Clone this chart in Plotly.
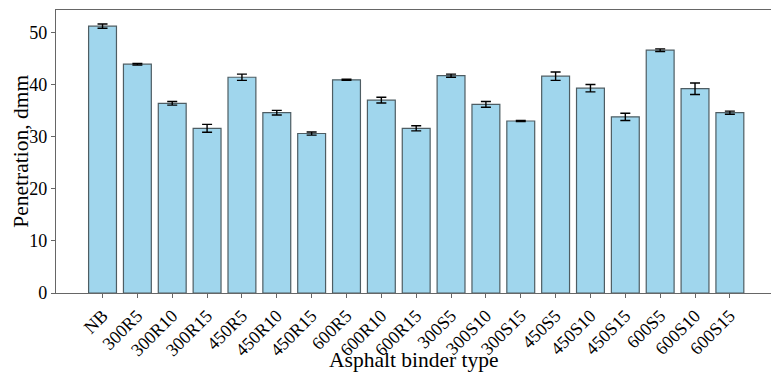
import plotly.graph_objects as go

binders = ["NB", "300R5", "300R10", "300R15", "450R5", "450R10", "450R15",
           "600R5", "600R10", "600R15", "300S5", "300S10", "300S15",
           "450S5", "450S10", "450S15", "600S5", "600S10", "600S15"]
penetration = [51.2, 43.9, 36.4, 31.6, 41.4, 34.6, 30.6,
               40.9, 37.0, 31.6, 41.7, 36.2, 33.0,
               41.6, 39.3, 33.8, 46.6, 39.2, 34.6]
std_dev = [0.4, 0.15, 0.35, 0.75, 0.6, 0.45, 0.3,
           0.1, 0.55, 0.5, 0.3, 0.55, 0.1,
           0.8, 0.7, 0.7, 0.25, 1.1, 0.3]

positions = list(range(len(binders)))
serif = "Liberation Serif, Times New Roman, serif"

fig = go.Figure(go.Bar(
    x=positions,
    y=penetration,
    width=0.8,
    marker=dict(color="#a0d6ed", line=dict(color="#4e5d63", width=1.2)),
    error_y=dict(type="data", array=std_dev, visible=True,
                 color="black", thickness=1.4, width=5),
))

fig.update_layout(
    width=771, height=374,
    margin=dict(l=56, r=0, t=10, b=81),
    plot_bgcolor="white", paper_bgcolor="white",
    font=dict(family=serif, color="black"),
    showlegend=False,
    bargap=0.2,
    annotations=[
        dict(text="Asphalt binder type", xref="paper", yref="paper",
             x=0.5, y=-0.238, xanchor="center", yanchor="middle",
             showarrow=False, font=dict(size=21.5, family=serif)),
        dict(text="Penetration, dmm", xref="paper", yref="paper",
             x=-0.05, y=0.5, xanchor="center", yanchor="middle",
             textangle=-90, showarrow=False,
             font=dict(size=21.5, family=serif)),
    ],
)
fig.update_xaxes(
    range=[-1.335, 19.18],
    tickmode="array", tickvals=positions, ticktext=binders,
    tickangle=-45, tickfont=dict(size=18),
    ticks="outside", ticklen=4, tickcolor="#666",
    showline=True, linecolor="#666", linewidth=1.2, mirror=True,
    showgrid=False, zeroline=False, automargin=False,
)
fig.update_yaxes(
    range=[0, 54.3],
    tickvals=[0, 10, 20, 30, 40, 50], tickfont=dict(size=18),
    ticks="outside", ticklen=4, tickcolor="#666",
    showline=True, linecolor="#666", linewidth=1.2,
    showgrid=False, zeroline=False, automargin=False,
)

fig.write_html("out.html")
